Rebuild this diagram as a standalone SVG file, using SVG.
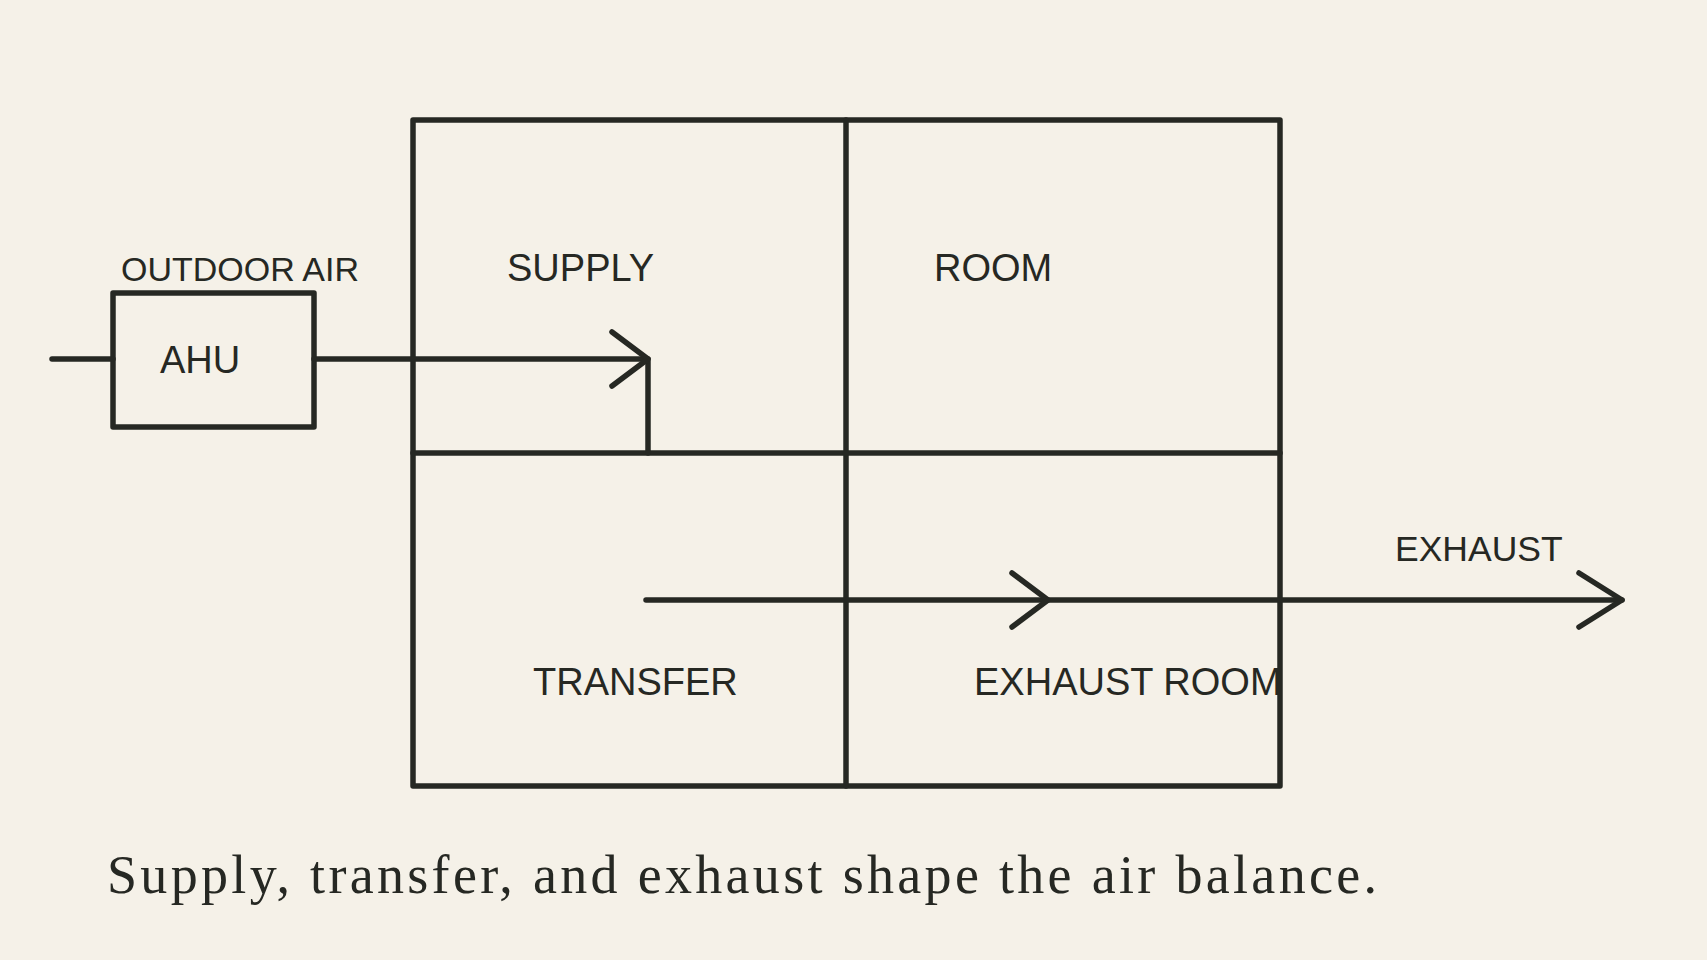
<svg xmlns="http://www.w3.org/2000/svg" width="1707" height="960" viewBox="0 0 1707 960">
<style>
.l{fill:none;stroke:#262823;stroke-width:5.5;stroke-linecap:round;stroke-linejoin:round}
.t{font-family:"Liberation Sans",Arial,sans-serif;fill:#262823}
</style>
<rect width="1707" height="960" fill="#f5f1e8"/>
<g id="grid">
<rect class="l" x="413" y="120" width="867" height="666"/>
<line class="l" x1="846" y1="120" x2="846" y2="786"/>
<line class="l" x1="413" y1="453" x2="1280" y2="453"/>
</g>
<g id="ahu">
<rect class="l" x="113" y="293" width="201" height="134"/>
<text class="t" x="160" y="373" font-size="38">AHU</text>
</g>
<text class="t" x="121" y="281" font-size="34">OUTDOOR AIR</text>
<g id="labels">
<text class="t" x="507" y="281" font-size="38">SUPPLY</text>
<text class="t" x="934" y="281" font-size="38">ROOM</text>
<text class="t" x="533" y="695" font-size="38">TRANSFER</text>
<text class="t" x="974" y="695" font-size="38">EXHAUST ROOM</text>
<text class="t" x="1395" y="561" font-size="35.5">EXHAUST</text>
</g>
<g id="connectors">
<line class="l" x1="52" y1="359" x2="113" y2="359"/>
<polyline class="l" points="314,359 648,359 648,453"/>
<polyline class="l" points="612,332 648,359 612,386"/>
<line class="l" x1="646" y1="600" x2="1622" y2="600"/>
<polyline class="l" points="1012,573 1048,600 1012,627"/>
<polyline class="l" points="1579,573 1622,600 1579,627"/>
</g>
<text x="107" y="893" font-family="'Liberation Serif','DejaVu Serif',serif" font-size="54" fill="#262823" textLength="1270">Supply, transfer, and exhaust shape the air balance.</text>
</svg>
